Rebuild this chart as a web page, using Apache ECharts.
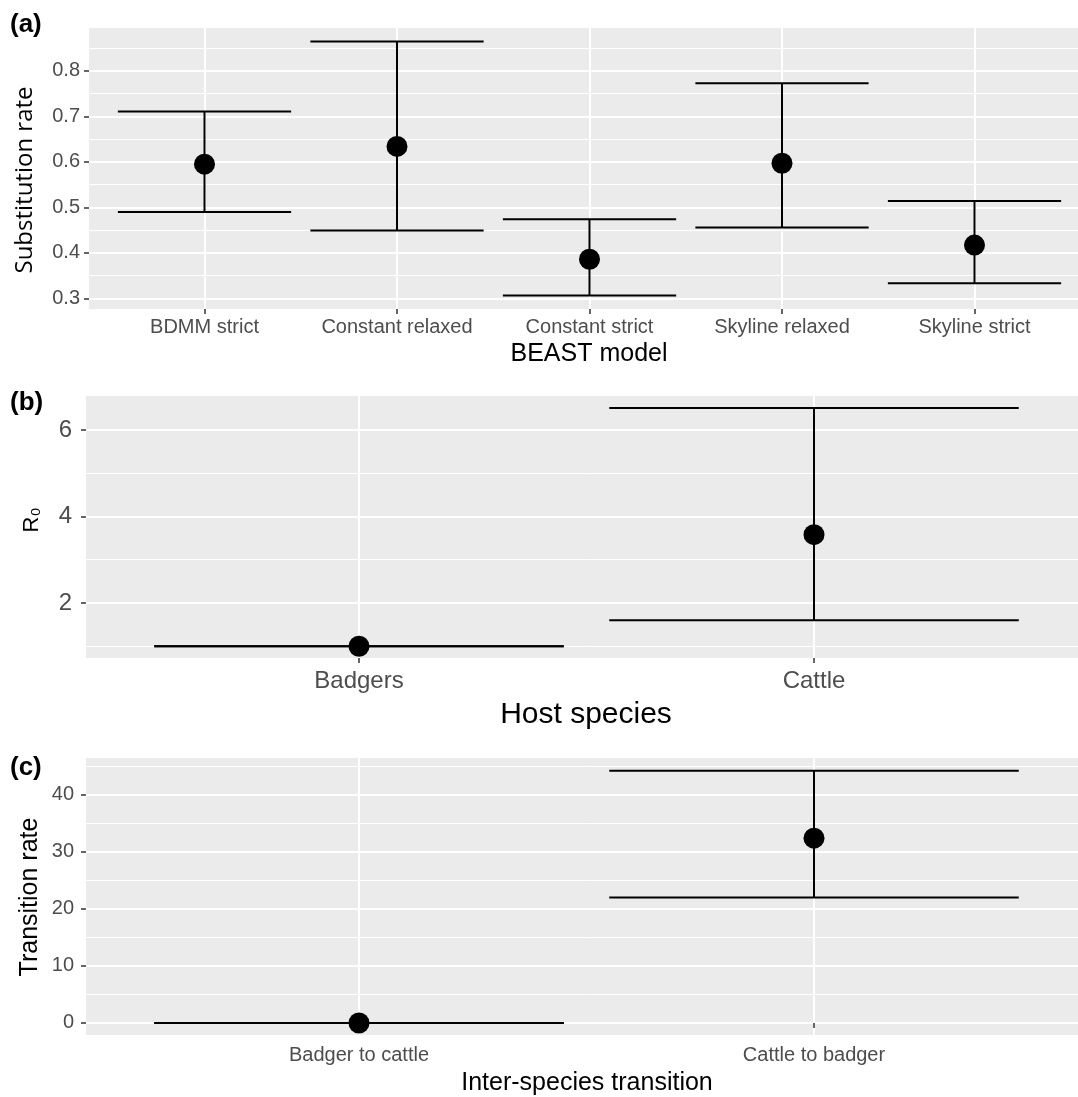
<!DOCTYPE html>
<html>
<head>
<meta charset="utf-8">
<script src="https://cdn.jsdelivr.net/npm/echarts@6/dist/echarts.min.js"></script>
<style>
  html, body { margin: 0; padding: 0; background: #fff; overflow: hidden; }
  #chart { width: 1092px; height: 1097px; }
</style>
</head>
<body>
<div id="chart"></div>
<script>
// panel (a): substitution rate per BEAST model
var modelCats = ["BDMM strict", "Constant relaxed", "Constant strict", "Skyline relaxed", "Skyline strict"];
var rateMean = [0.595, 0.634, 0.386, 0.597, 0.417];
var rateLower = [0.490, 0.449, 0.306, 0.456, 0.333];
var rateUpper = [0.711, 0.865, 0.474, 0.773, 0.514];
var rateTicks = [0.3, 0.4, 0.5, 0.6, 0.7, 0.8];
var rateMinor = [0.35, 0.45, 0.55, 0.65, 0.75, 0.85];

// panel (b): R0 per host species
var hostCats = ["Badgers", "Cattle"];
var r0Mean = [1.0, 3.58];
var r0Lower = [1.0, 1.6];
var r0Upper = [1.0, 6.51];
var r0Ticks = [2, 4, 6];
var r0Minor = [1, 3, 5];

// panel (c): inter-species transition rate
var transCats = ["Badger to cattle", "Cattle to badger"];
var transMean = [0, 32.4];
var transLower = [0, 22.0];
var transUpper = [0, 44.2];
var transTicks = [0, 10, 20, 30, 40];
var transMinor = [5, 15, 25, 35, 45];

var FONT = "'Liberation Sans', Arial, sans-serif";

var panels = [
  { cats: modelCats, mean: rateMean, lo: rateLower, hi: rateUpper, ticks: rateTicks, minor: rateMinor,
    grid: { left: 89, top: 28, width: 1001, height: 281 }, ymin: 0.2765, ymax: 0.8945,
    tickFont: 20, xMargin: 8, yMargin: 9, fmt: function (v) { return v.toFixed(1); } },
  { cats: hostCats, mean: r0Mean, lo: r0Lower, hi: r0Upper, ticks: r0Ticks, minor: r0Minor,
    grid: { left: 86, top: 396, width: 1001, height: 262 }, ymin: 0.728, ymax: 6.786,
    tickFont: 24, xMargin: 11, yMargin: 14, fmt: function (v) { return String(v); } },
  { cats: transCats, mean: transMean, lo: transLower, hi: transUpper, ticks: transTicks, minor: transMinor,
    grid: { left: 86, top: 758, width: 1001, height: 277 }, ymin: -2.11, ymax: 46.45,
    tickFont: 20, xMargin: 10, yMargin: 12, fmt: function (v) { return String(v); } }
];

function errorBarItem(params, api) {
  var x = api.value(0);
  var pLo = api.coord([x, api.value(1)]);
  var pHi = api.coord([x, api.value(2)]);
  var half = api.size([0.45, 0])[0];
  var st = { stroke: "#000", lineWidth: 2 };
  return {
    type: "group",
    children: [
      { type: "line", shape: { x1: pHi[0], y1: pHi[1], x2: pLo[0], y2: pLo[1] }, style: st },
      { type: "line", shape: { x1: pHi[0] - half, y1: pHi[1], x2: pHi[0] + half, y2: pHi[1] }, style: st },
      { type: "line", shape: { x1: pLo[0] - half, y1: pLo[1], x2: pLo[0] + half, y2: pLo[1] }, style: st }
    ]
  };
}

var grids = [], xAxes = [], yAxes = [], series = [];
panels.forEach(function (p, i) {
  grids.push(Object.assign({ show: true, backgroundColor: "#EBEBEB", borderWidth: 0, outerBoundsMode: "none" }, p.grid));
  var idx = p.cats.map(function (c, k) { return k + 1; });
  xAxes.push({
    type: "value", gridIndex: i, min: 0.4, max: p.cats.length + 0.6,
    axisLine: { show: false },
    axisTick: { show: true, customValues: idx, length: 5, lineStyle: { color: "#333", width: 1.5 } },
    axisLabel: { customValues: idx, margin: p.xMargin, color: "#4D4D4D", fontSize: p.tickFont, fontFamily: FONT,
      formatter: function (v) { return p.cats[Math.round(v) - 1]; } },
    splitLine: { show: true, lineStyle: { color: "#fff", width: 2 } }
  });
  // major y axis
  yAxes.push({
    type: "value", gridIndex: i, min: p.ymin, max: p.ymax, position: "left",
    axisLine: { show: false },
    axisTick: { show: true, customValues: p.ticks, length: 5, lineStyle: { color: "#333", width: 1.5 } },
    axisLabel: { customValues: p.ticks, margin: p.yMargin, color: "#4D4D4D", fontSize: p.tickFont, fontFamily: FONT,
      formatter: p.fmt },
    splitLine: { show: true, lineStyle: { color: "#fff", width: 2 } }
  });
  // minor gridlines
  yAxes.push({
    type: "value", gridIndex: i, min: p.ymin, max: p.ymax, position: "left",
    axisLine: { show: false },
    axisTick: { show: false, customValues: p.minor },
    axisLabel: { show: false, customValues: p.minor },
    splitLine: { show: true, lineStyle: { color: "#fff", width: 1 } }
  });
  series.push({
    type: "custom", xAxisIndex: i, yAxisIndex: i * 2, renderItem: errorBarItem,
    encode: { x: 0, y: [1, 2] }, silent: true,
    data: idx.map(function (x, k) { return [x, p.lo[k], p.hi[k]]; })
  });
  series.push({
    type: "scatter", xAxisIndex: i, yAxisIndex: i * 2, symbol: "circle", symbolSize: 21,
    itemStyle: { color: "#000", opacity: 1 }, silent: true, z: 5,
    data: idx.map(function (x, k) { return [x, p.mean[k]]; })
  });
});

function label(text, x, y, size, opts) {
  opts = opts || {};
  return {
    type: "text", x: x, y: y, rotation: opts.rot ? Math.PI / 2 : 0, z: 10,
    style: { text: text, fill: "#000", fontSize: size, fontFamily: opts.family || FONT,
      fontWeight: opts.bold ? "bold" : "normal",
      align: opts.align || "center", verticalAlign: "middle" }
  };
}

var chart = echarts.init(document.getElementById("chart"), null, { renderer: "canvas" });
chart.setOption({
  animation: false,
  backgroundColor: "#fff",
  grid: grids,
  xAxis: xAxes,
  yAxis: yAxes,
  series: series,
  graphic: [
    label("(a)", 10, 25, 26, { bold: true, align: "left" }),
    label("(b)", 10, 403, 26, { bold: true, align: "left" }),
    label("(c)", 10, 768, 26, { bold: true, align: "left" }),
    label("Substitution rate", 25, 180, 24, { rot: true, family: "'Open Sans', sans-serif" }),
    label("BEAST model", 589, 354, 25),
    label("R\u2080", 32, 520, 22, { rot: true }),
    label("Host species", 586, 715, 30),
    label("Transition rate", 30, 897, 25, { rot: true }),
    label("Inter-species transition", 587, 1083, 25)
  ]
});
</script>
</body>
</html>
